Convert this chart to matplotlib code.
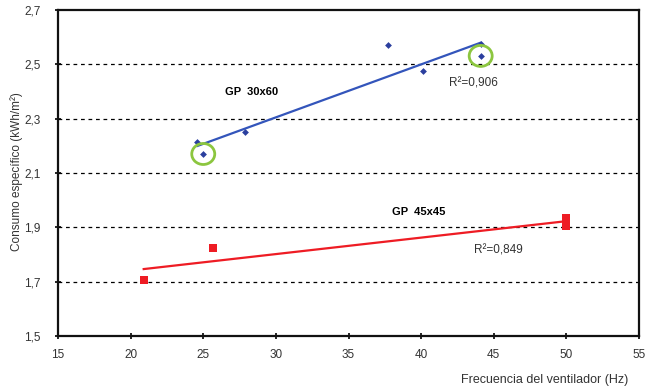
import numpy as np
import matplotlib
matplotlib.use("Agg")
import matplotlib.pyplot as plt
from matplotlib.patches import Ellipse

plt.rcParams['font.family'] = ['Liberation Sans', 'DejaVu Sans']

# GP 30x60 measurements
freq_30x60 = [24.6, 25.0, 27.85, 37.75, 40.1, 44.1, 44.1]
cons_30x60 = [2.215, 2.170, 2.250, 2.570, 2.476, 2.575, 2.531]

# GP 45x45 measurements
freq_45x45 = [20.9, 25.7, 50.0, 50.0, 50.0]
cons_45x45 = [1.705, 1.825, 1.935, 1.920, 1.905]

r2_30x60 = "0,906"
r2_45x45 = "0,849"

# highlighted points of GP 30x60
circled = [(25.0, 2.170), (44.1, 2.531)]

xticks = [15, 20, 25, 30, 35, 40, 45, 50, 55]
yticks = [1.5, 1.7, 1.9, 2.1, 2.3, 2.5, 2.7]
ytick_labels = ["1,5", "1,7", "1,9", "2,1", "2,3", "2,5", "2,7"]

fig = plt.figure(figsize=(6.53, 3.91), dpi=100)
ax = fig.add_axes([58 / 653, 1 - 336 / 391, (639 - 58) / 653, (336 - 10) / 391])

ax.set_xlim(15, 55)
ax.set_ylim(1.5, 2.7)

for y in yticks[1:-1]:
    ax.axhline(y, color='black', linestyle=(0, (3, 3)), linewidth=0.9, zorder=1)

blue = '#2b3f9e'
red = '#ee1c24'

# linear trend lines
for xs, ys, col in [(freq_30x60, cons_30x60, '#3355bb'), (freq_45x45, cons_45x45, red)]:
    k, b = np.polyfit(xs, ys, 1)
    xl = np.array([min(xs), max(xs)])
    ax.plot(xl, k * xl + b, color=col, linewidth=1.6, zorder=2)

ax.scatter(freq_30x60, cons_30x60, marker='D', s=12, color=blue, zorder=3, linewidths=0)
ax.scatter(freq_45x45, cons_45x45, marker='s', s=28, color=red, zorder=3, linewidths=0)

# circles around highlighted points (drawn in pixel-equivalent size)
px_x = 40 / (639 - 58)
px_y = 1.2 / (336 - 10)
for cx, cy in circled:
    ax.add_patch(Ellipse((cx, cy), width=23 * px_x, height=21 * px_y, fill=False,
                         edgecolor='#8cc63f', linewidth=2, zorder=4))

ax.text(28.3, 2.398, "GP  30x60", fontsize=8, fontweight='bold', ha='center', va='center')
ax.text(43.6, 2.431, "R²=" + r2_30x60, fontsize=8.5, ha='center', va='center', color='#333333')
ax.text(39.8, 1.957, "GP  45x45", fontsize=8, fontweight='bold', ha='center', va='center')
ax.text(45.3, 1.813, "R²=" + r2_45x45, fontsize=8.5, ha='center', va='center', color='#333333')

ax.set_xticks(xticks)
ax.set_xticklabels([str(t) for t in xticks])
ax.set_yticks(yticks)
ax.set_yticklabels(ytick_labels)
ax.tick_params(direction='inout', length=5, width=1.2, labelsize=8.5, colors='black',
               labelcolor='#333333')
ax.tick_params(axis='x', pad=7)
ax.tick_params(axis='y', pad=10)

for sp in ax.spines.values():
    sp.set_linewidth(1.6)
    sp.set_color('#111111')

fig.text(17 / 653, 1 - 172 / 391, "Consumo específico (kWh/m²)", rotation=90,
         ha='center', va='center', fontsize=8.5, color='#333333')
fig.text(628 / 653, 1 - 380 / 391, "Frecuencia del ventilador (Hz)",
         ha='right', va='center', fontsize=9, color='#333333')

fig.savefig("out.png", dpi=100)
